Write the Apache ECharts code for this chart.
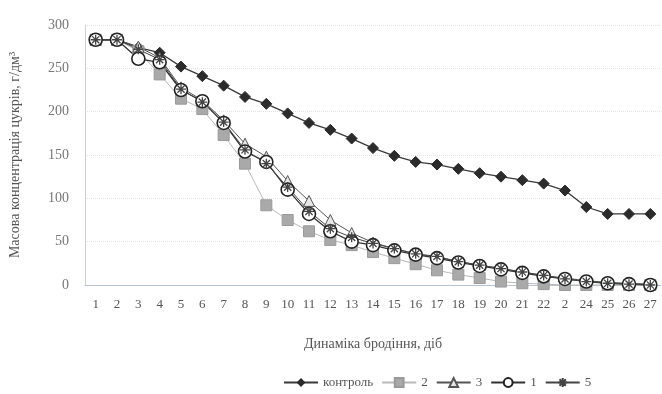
<!DOCTYPE html>
<html>
<head>
<meta charset="utf-8">
<script src="https://cdn.jsdelivr.net/npm/echarts@6/dist/echarts.min.js"></script>
<style>
  html, body { margin: 0; padding: 0; background: #fff; }
  #chart { width: 662px; height: 394px; }
</style>
</head>
<body>
<div id="chart"></div>
<script>
// Day labels along the fermentation axis
const days = ['1','2','3','4','5','6','7','8','9','10','11','12','13','14','15','16','17','18','19','20','21','22','2','24','25','26','27'];

// Sugar mass concentration, g/dm3
const control = [283, 283, 274, 268, 252, 241, 230, 217, 209, 198, 187, 179, 169, 158, 149, 142, 139, 134, 129, 125, 121, 117, 109, 90, 82, 82, 82];
const s2 = [283, 283, 270, 243, 215, 203, 173, 140, 92, 75, 62, 52, 46, 38, 31, 24, 17, 12, 8, 4, 2, 1, 0, 0, 0, 0, 0];
const s3 = [283, 283, 275, 262, 228, 213, 190, 163, 148, 120, 97, 75, 60, 49, 42, 36, 32, 27, 23, 19, 15, 11, 8, 5, 3, 2, 1];
const s1 = [283, 283, 261, 257, 225, 212, 187, 154, 142, 110, 82, 62, 50, 46, 40, 35, 31, 26, 22, 18, 14, 10, 7, 4, 2, 1, 0];
const s5 = [283, 283, 272, 260, 226, 211, 188, 156, 140, 113, 85, 65, 55, 48, 42, 36, 33, 27, 23, 19, 15, 11, 7, 4, 2, 1, 0];

const yTicks = { min: 0, max: 300, interval: 50 };

const serif = 'Liberation Serif';
const asterisk = 'path://M0,-5L0,5M-5,0L5,0M-3.6,-3.6L3.6,3.6M-3.6,3.6L3.6,-3.6';

const chart = echarts.init(document.getElementById('chart'));
chart.setOption({
  backgroundColor: '#fff',
  animation: false,
  textStyle: { fontFamily: serif },
  grid: { left: 82, right: 1, top: 25, bottom: 109 },
  xAxis: {
    type: 'category',
    data: days,
    boundaryGap: true,
    name: 'Динаміка бродіння, діб',
    nameLocation: 'middle',
    nameGap: 52,
    nameTextStyle: { fontFamily: serif, fontSize: 14, color: '#555' },
    axisLine: { lineStyle: { color: '#b9c3d6', width: 1 } },
    axisTick: { show: false },
    axisLabel: { fontFamily: serif, fontSize: 13, color: '#555', margin: 13, interval: 0 },
    splitLine: { show: false }
  },
  yAxis: {
    type: 'value',
    min: yTicks.min,
    max: yTicks.max,
    interval: yTicks.interval,
    name: 'Масова концентрація цукрів, г/дм³',
    nameLocation: 'middle',
    nameGap: 63,
    nameTextStyle: { fontFamily: serif, fontSize: 14, color: '#555' },
    axisLine: { show: true, lineStyle: { color: '#d0d0d0', width: 1 } },
    axisTick: { show: false },
    axisLabel: { fontFamily: serif, fontSize: 14, color: '#777', margin: 16 },
    splitLine: { show: true, lineStyle: { color: '#e2e2e2', type: 'dotted', width: 1 } }
  },
  legend: {
    bottom: 0,
    left: 278,
    itemWidth: 34,
    itemHeight: 11,
    itemGap: 8,
    textStyle: { fontFamily: serif, fontSize: 13, color: '#555' },
    data: ['контроль', '2', '3', '1', '5']
  },
  series: [
    {
      name: 'контроль', type: 'line', data: control,
      symbol: 'diamond', symbolSize: 11,
      lineStyle: { color: '#3a3a3a', width: 1.3 },
      itemStyle: { color: '#2b2b2b', borderColor: '#2b2b2b' }
    },
    {
      name: '2', type: 'line', data: s2,
      symbol: 'rect', symbolSize: 11,
      lineStyle: { color: '#b8b8b8', width: 1 },
      itemStyle: { color: '#a9a9a9', borderColor: '#9a9a9a', borderWidth: 1 }
    },
    {
      name: '3', type: 'line', data: s3,
      symbol: 'triangle', symbolSize: 11,
      lineStyle: { color: '#555', width: 1 },
      itemStyle: { color: '#e6e6e6', borderColor: '#555', borderWidth: 1 }
    },
    {
      name: '1', type: 'line', data: s1,
      symbol: 'circle', symbolSize: 13,
      lineStyle: { color: '#333', width: 1.3 },
      itemStyle: { color: '#fff', borderColor: '#222', borderWidth: 1.6 }
    },
    {
      name: '5', type: 'line', data: s5,
      symbol: asterisk, symbolSize: 10,
      lineStyle: { color: '#444', width: 1 },
      itemStyle: { color: '#444', borderColor: '#444', borderWidth: 1.3 }
    }
  ]
});
</script>
</body>
</html>
